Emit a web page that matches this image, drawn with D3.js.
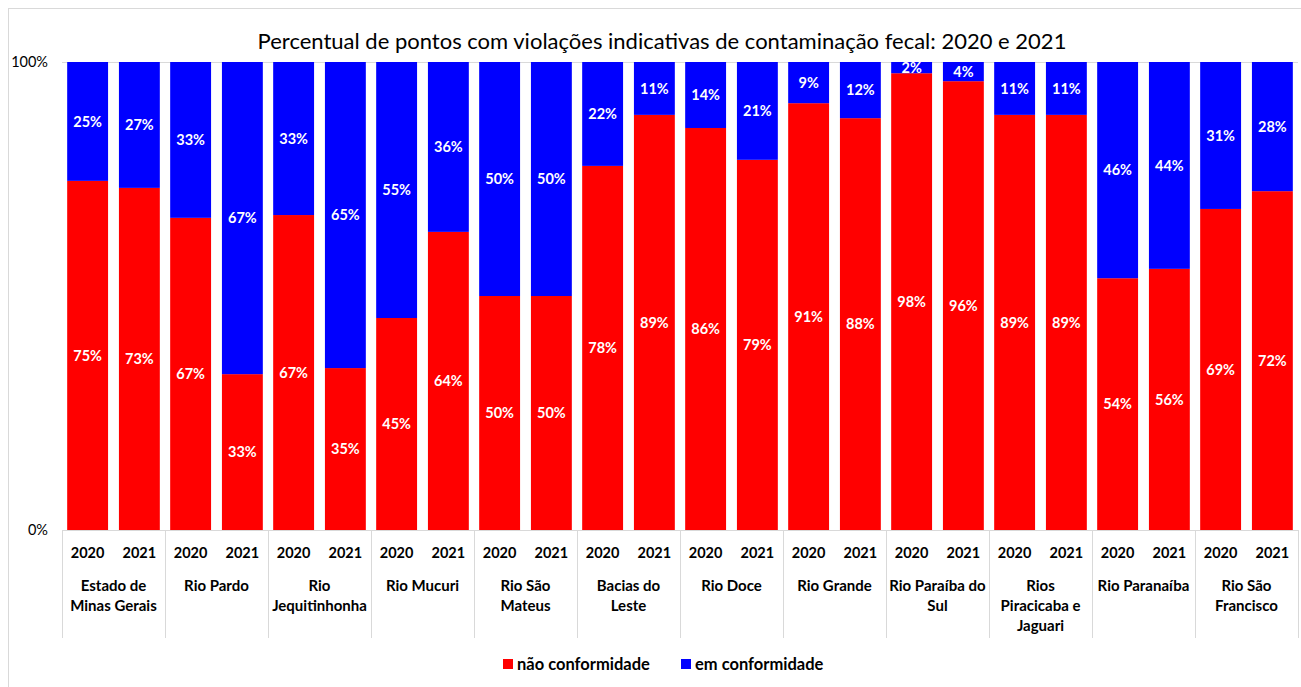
<!DOCTYPE html>
<html>
<head>
<meta charset="utf-8">
<script src="https://cdn.jsdelivr.net/npm/d3@7"></script>
<style>
  html, body { margin: 0; padding: 0; background: #fff; }
  svg { display: block; }
  text { font-family: Lato, "Open Sans", sans-serif; }
</style>
</head>
<body>
<svg id="chart" width="1301" height="687"></svg>
<script>
const title = "Percentual de pontos com violações indicativas de contaminação fecal: 2020 e 2021";
const categories = [
  "Estado de\nMinas Gerais", "Rio Pardo", "Rio\nJequitinhonha", "Rio Mucuri",
  "Rio São\nMateus", "Bacias do\nLeste", "Rio Doce", "Rio Grande",
  "Rio Paraíba do\nSul", "Rios\nPiracicaba e\nJaguari", "Rio Paranaíba", "Rio São\nFrancisco"
];
const years = ["2020", "2021"];
// não conformidade (%) — [2020, 2021] per category
const naoConformidade = [
  [74.6, 73.1], [66.7, 33.3], [67.3, 34.6], [45.3, 63.7],
  [50.0, 50.0], [77.8, 88.7], [85.9, 79.1], [91.2, 88.0],
  [97.6, 95.9], [88.7, 88.7], [53.8, 55.8], [68.6, 72.4]
];
// em conformidade (%)
const emConformidade = [
  [25.4, 26.9], [33.3, 66.7], [32.7, 65.4], [54.7, 36.3],
  [50.0, 50.0], [22.2, 11.3], [14.1, 20.9], [8.8, 12.0],
  [2.4, 4.1], [11.3, 11.3], [46.2, 44.2], [31.4, 27.6]
];
const yTicks = [0, 100];
const seriesNames = ["não conformidade", "em conformidade"];
const seriesColors = ["#FF0000", "#0000FF"];

const svg = d3.select("#chart");
const mLeft = 62, mRight = 1298, mTop = 62, mBottom = 530;

// chart frame
svg.append("rect").attr("x", 8.5).attr("y", 8.5).attr("width", 1400).attr("height", 800)
  .attr("fill", "none").attr("stroke", "#d9d9d9").attr("stroke-width", 1);

// title
svg.append("text").attr("x", 662).attr("y", 49).attr("text-anchor", "middle")
  .attr("font-size", 22).attr("fill", "#000").text(title);

const y = d3.scaleLinear().domain([0, 100]).range([mBottom, mTop]);
const x0 = d3.scaleBand().domain(categories).range([mLeft, mRight]).padding(0);
const x1 = d3.scaleBand().domain(years).range([0, x0.bandwidth()]).paddingInner(0.21).paddingOuter(0.1);

// gridline at 100%
svg.append("line").attr("x1", mLeft).attr("x2", mRight).attr("y1", y(100) + 0.5).attr("y2", y(100) + 0.5)
  .attr("stroke", "#d9d9d9").attr("stroke-width", 1);

// y tick labels
svg.selectAll("text.ytick").data(yTicks).join("text").attr("class", "ytick")
  .attr("x", 48).attr("y", d => y(d)).attr("dy", "0.35em").attr("text-anchor", "end")
  .attr("font-size", 14.5).attr("fill", "#000").text(d => d + "%");

// bars
const rows = [];
categories.forEach((c, i) => years.forEach((yr, j) => {
  rows.push({ c, yr, nao: naoConformidade[i][j], em: emConformidade[i][j] });
}));

const g = svg.append("g");
rows.forEach(r => {
  const bx = x0(r.c) + x1(r.yr);
  const bw = x1.bandwidth();
  g.append("rect").attr("x", bx).attr("width", bw)
    .attr("y", y(r.nao)).attr("height", y(0) - y(r.nao)).attr("fill", seriesColors[0]);
  g.append("rect").attr("x", bx).attr("width", bw)
    .attr("y", y(r.nao + r.em)).attr("height", y(r.nao) - y(r.nao + r.em)).attr("fill", seriesColors[1]);
  g.append("text").attr("x", bx + bw / 2).attr("y", (y(0) + y(r.nao)) / 2).attr("dy", "0.35em")
    .attr("text-anchor", "middle").attr("font-size", 14.5).attr("font-weight", "bold").attr("fill", "#fff")
    .text(Math.round(r.nao) + "%");
  g.append("text").attr("x", bx + bw / 2).attr("y", (y(r.nao) + y(r.nao + r.em)) / 2).attr("dy", "0.35em")
    .attr("text-anchor", "middle").attr("font-size", 14.5).attr("font-weight", "bold").attr("fill", "#fff")
    .text(Math.round(r.em) + "%");
});

// axis line at 0
svg.append("line").attr("x1", mLeft).attr("x2", mRight).attr("y1", mBottom + 0.5).attr("y2", mBottom + 0.5)
  .attr("stroke", "#d9d9d9").attr("stroke-width", 1);

// category separators
const seps = categories.map(c => x0(c)).concat([mRight]);
svg.selectAll("line.sep").data(seps).join("line").attr("class", "sep")
  .attr("x1", d => Math.round(d) + 0.5).attr("x2", d => Math.round(d) + 0.5)
  .attr("y1", mBottom).attr("y2", 638).attr("stroke", "#d9d9d9").attr("stroke-width", 1);

// year labels
rows.forEach(r => {
  svg.append("text").attr("x", x0(r.c) + x1(r.yr) + x1.bandwidth() / 2).attr("y", 553).attr("dy", "0.35em")
    .attr("text-anchor", "middle").attr("font-size", 14.5).attr("font-weight", "bold").attr("fill", "#000")
    .text(r.yr);
});

// category labels
categories.forEach(c => {
  const lines = c.split("\n");
  const t = svg.append("text").attr("text-anchor", "middle").attr("font-size", 15)
    .attr("font-weight", "bold").attr("fill", "#000");
  lines.forEach((ln, k) => {
    t.append("tspan").attr("x", x0(c) + x0.bandwidth() / 2).attr("y", 586 + k * 20).attr("dy", "0.35em").text(ln);
  });
});

// legend
const legend = svg.append("g");
const items = [{ x: 503, name: seriesNames[0], color: seriesColors[0] }, { x: 681, name: seriesNames[1], color: seriesColors[1] }];
items.forEach(it => {
  legend.append("rect").attr("x", it.x).attr("y", 659).attr("width", 10).attr("height", 10).attr("fill", it.color);
  legend.append("text").attr("x", it.x + 14).attr("y", 664).attr("dy", "0.35em")
    .attr("font-size", 16.5).attr("font-weight", "bold").attr("fill", "#000").text(it.name);
});
</script>
</body>
</html>
